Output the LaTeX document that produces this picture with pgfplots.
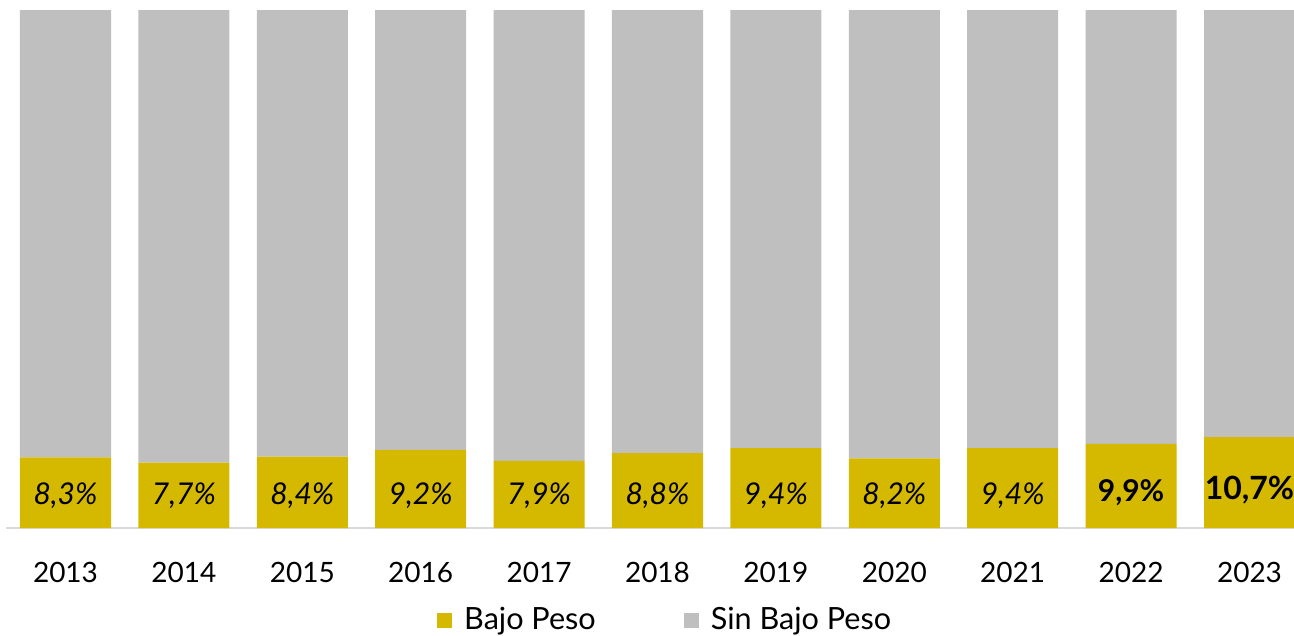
\documentclass[border=0pt]{standalone}
\usepackage{pgfplots}
\pgfplotsset{compat=1.18}
\usepackage{fontspec}
\setmainfont{Lato}
\definecolor{bajo}{RGB}{212,185,0}
\definecolor{sinbajo}{RGB}{191,191,191}
\definecolor{axisgray}{RGB}{217,217,217}

\begin{document}
\begin{tikzpicture}[lab/.style={anchor=base, font=\fontsize{15}{17}\selectfont\itshape, yshift=11.5pt}]
\begin{axis}[
    scale only axis,
    width=643.85pt, height=258.5pt,
    ybar stacked,
    bar width=45.5pt,
    xmin=-0.5, xmax=10.376,
    ymin=0, ymax=60.8,
    axis x line=bottom,
    axis y line=none,
    x axis line style={-, draw=axisgray, line width=1pt},
    xtick={0,...,10},
    xticklabels={2013,2014,2015,2016,2017,2018,2019,2020,2021,2022,2023},
    major tick length=0pt,
    xticklabel style={anchor=base, yshift=-27pt, font=\fontsize{14}{16}\selectfont},
    legend columns=2,
    legend style={at={(0.5,0)}, anchor=center, xshift=8pt, yshift=-46pt, draw=none,
        font=\fontsize{15.3}{17}\selectfont},
    /tikz/every odd column/.append style={column sep=4pt},
    /tikz/every even column/.append style={column sep=42pt},
    legend image code/.code={\fill[#1] (0pt,-3.75pt) rectangle (7.5pt,3.75pt);},
]
\addplot[fill=bajo, draw=none] coordinates {
    (0,8.3) (1,7.7) (2,8.4) (3,9.2) (4,7.9) (5,8.8) (6,9.4) (7,8.2) (8,9.4) (9,9.9) (10,10.7)};
\addlegendentry{Bajo Peso}
\addplot[fill=sinbajo, draw=none] coordinates {
    (0,91.7) (1,92.3) (2,91.6) (3,90.8) (4,92.1) (5,91.2) (6,90.6) (7,91.8) (8,90.6) (9,90.1) (10,89.3)};
\addlegendentry{Sin Bajo Peso}
\coordinate (bl) at (rel axis cs:0,0);
\coordinate (tr) at (rel axis cs:1,1);
\coordinate (c0) at (axis cs:0,0);
\coordinate (c1) at (axis cs:1,0);
\coordinate (c2) at (axis cs:2,0);
\coordinate (c3) at (axis cs:3,0);
\coordinate (c4) at (axis cs:4,0);
\coordinate (c5) at (axis cs:5,0);
\coordinate (c6) at (axis cs:6,0);
\coordinate (c7) at (axis cs:7,0);
\coordinate (c8) at (axis cs:8,0);
\coordinate (c9) at (axis cs:9,0);
\coordinate (c10) at (axis cs:10,0);
\end{axis}
\node[lab] at (c0) {8,3\%};
\node[lab] at (c1) {7,7\%};
\node[lab] at (c2) {8,4\%};
\node[lab] at (c3) {9,2\%};
\node[lab] at (c4) {7,9\%};
\node[lab] at (c5) {8,8\%};
\node[lab] at (c6) {9,4\%};
\node[lab] at (c7) {8,2\%};
\node[lab] at (c8) {9,4\%};
\node[anchor=base, font=\fontsize{15}{17}\selectfont\bfseries, yshift=13pt] at (c9) {9,9\%};
\node[anchor=base, font=\fontsize{16}{18}\selectfont\bfseries, yshift=14pt] at (c10) {10,7\%};
\pgfresetboundingbox
\path ([xshift=-3.15pt,yshift=-54pt]bl) rectangle ([yshift=5.5pt]tr);
\end{tikzpicture}
\end{document}
